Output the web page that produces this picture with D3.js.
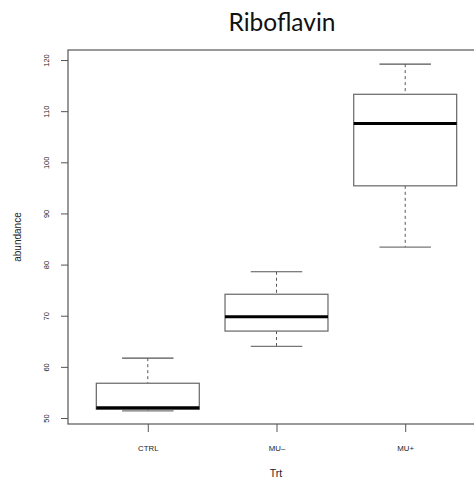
<!DOCTYPE html>
<html>
<head>
<meta charset="utf-8">
<script src="https://cdn.jsdelivr.net/npm/d3@7"></script>
<style>
  body { margin: 0; background: #fff; }
  svg { display: block; }
</style>
</head>
<body>
<div id="chart"></div>
<script>
// data
const categories = ['CTRL', 'MU\u2013', 'MU+'];
const lowWhisker = [51.4, 64.0, 83.4];
const q1 = [51.7, 67.0, 95.4];
const medians = [52.0, 69.8, 107.6];
const q3 = [56.8, 74.2, 113.3];
const highWhisker = [61.7, 78.6, 119.2];
const yTicks = [50, 60, 70, 80, 90, 100, 110, 120];

const width = 474;
const height = 481;

const svg = d3.select('#chart')
  .append('svg')
  .attr('width', width)
  .attr('height', height);

// R style: positions 1..3, limits padded by 4%
const x = d3.scaleLinear().domain([0.38, 3.62]).range([68, 485]);
const y = d3.scaleLinear().domain([48.83, 121.96]).range([424, 50]);

const boxes = categories.map((c, i) => ({
  name: c,
  pos: i + 1,
  lo: lowWhisker[i],
  q1: q1[i],
  med: medians[i],
  q3: q3[i],
  hi: highWhisker[i],
}));

const unit = x(2) - x(1);
const boxW = unit * 0.8;
const capW = boxW / 2;

// frame
svg.append('rect')
  .attr('x', x.range()[0])
  .attr('y', y.range()[1])
  .attr('width', x.range()[1] - x.range()[0])
  .attr('height', y.range()[0] - y.range()[1])
  .attr('fill', 'none')
  .attr('stroke', '#555')
  .attr('stroke-width', 1.2);

const g = svg.append('g');

const box = g.selectAll('g.box')
  .data(boxes)
  .join('g')
  .attr('class', 'box');

// whiskers (dashed)
box.append('line')
  .attr('x1', (d) => x(d.pos))
  .attr('x2', (d) => x(d.pos))
  .attr('y1', (d) => y(d.hi))
  .attr('y2', (d) => y(d.q3))
  .attr('stroke', '#555')
  .attr('stroke-dasharray', '3,3');
box.append('line')
  .attr('x1', (d) => x(d.pos))
  .attr('x2', (d) => x(d.pos))
  .attr('y1', (d) => y(d.q1))
  .attr('y2', (d) => y(d.lo))
  .attr('stroke', '#555')
  .attr('stroke-dasharray', '3,3');

// caps
box.append('line')
  .attr('x1', (d) => x(d.pos) - capW / 2)
  .attr('x2', (d) => x(d.pos) + capW / 2)
  .attr('y1', (d) => y(d.hi))
  .attr('y2', (d) => y(d.hi))
  .attr('stroke', '#555')
  .attr('stroke-width', 1.2);
box.append('line')
  .attr('x1', (d) => x(d.pos) - capW / 2)
  .attr('x2', (d) => x(d.pos) + capW / 2)
  .attr('y1', (d) => y(d.lo))
  .attr('y2', (d) => y(d.lo))
  .attr('stroke', '#777')
  .attr('stroke-width', 1.2);

// box
box.append('rect')
  .attr('x', (d) => x(d.pos) - boxW / 2)
  .attr('width', boxW)
  .attr('y', (d) => y(d.q3))
  .attr('height', (d) => y(d.q1) - y(d.q3))
  .attr('fill', '#fff')
  .attr('stroke', '#666')
  .attr('stroke-width', 1.2);

// median
box.append('line')
  .attr('x1', (d) => x(d.pos) - boxW / 2)
  .attr('x2', (d) => x(d.pos) + boxW / 2)
  .attr('y1', (d) => y(d.med))
  .attr('y2', (d) => y(d.med))
  .attr('stroke', '#000')
  .attr('stroke-width', 3);

// y axis
const yAxis = svg.append('g')
  .attr('transform', `translate(${x.range()[0]},0)`)
  .call(d3.axisLeft(y).tickValues(yTicks).tickSize(7).tickSizeOuter(0));
yAxis.select('.domain').remove();
yAxis.selectAll('.tick line').attr('stroke', '#555');
yAxis.selectAll('.tick text')
  .attr('x', null)
  .attr('y', null)
  .attr('dy', '0.35em')
  .attr('transform', 'translate(-22,0) rotate(-90)')
  .attr('text-anchor', 'middle')
  .attr('font-family', 'Liberation Sans, Arial, sans-serif')
  .attr('font-size', 7.5)
  .attr('fill', '#222');

// x axis
const xAxis = svg.append('g')
  .attr('transform', `translate(0,${y.range()[0]})`)
  .call(d3.axisBottom(x).tickValues(boxes.map((d) => d.pos))
    .tickFormat((d, i) => categories[i]).tickSize(8).tickSizeOuter(0));
xAxis.select('.domain').remove();
xAxis.selectAll('.tick line').attr('stroke', '#555');
xAxis.selectAll('.tick text')
  .attr('y', 21)
  .attr('font-family', 'Liberation Sans, Arial, sans-serif')
  .attr('font-size', 7.8)
  .attr('fill', '#222');

// labels
svg.append('text')
  .attr('x', 276)
  .attr('y', 477)
  .attr('text-anchor', 'middle')
  .attr('font-family', 'Liberation Sans, Arial, sans-serif')
  .attr('font-size', 10.5)
  .attr('fill', '#222')
  .text('Trt');

svg.append('text')
  .attr('transform', `translate(21,${(y.range()[0] + y.range()[1]) / 2}) rotate(-90)`)
  .attr('text-anchor', 'middle')
  .attr('font-family', 'Liberation Sans, Arial, sans-serif')
  .attr('font-size', 10)
  .attr('fill', '#222')
  .text('abundance');

svg.append('text')
  .attr('x', 282)
  .attr('y', 31)
  .attr('text-anchor', 'middle')
  .attr('font-family', 'Lato, Open Sans, sans-serif')
  .attr('font-size', 24.5)
  .attr('fill', '#111')
  .text('Riboflavin');
</script>
</body>
</html>
